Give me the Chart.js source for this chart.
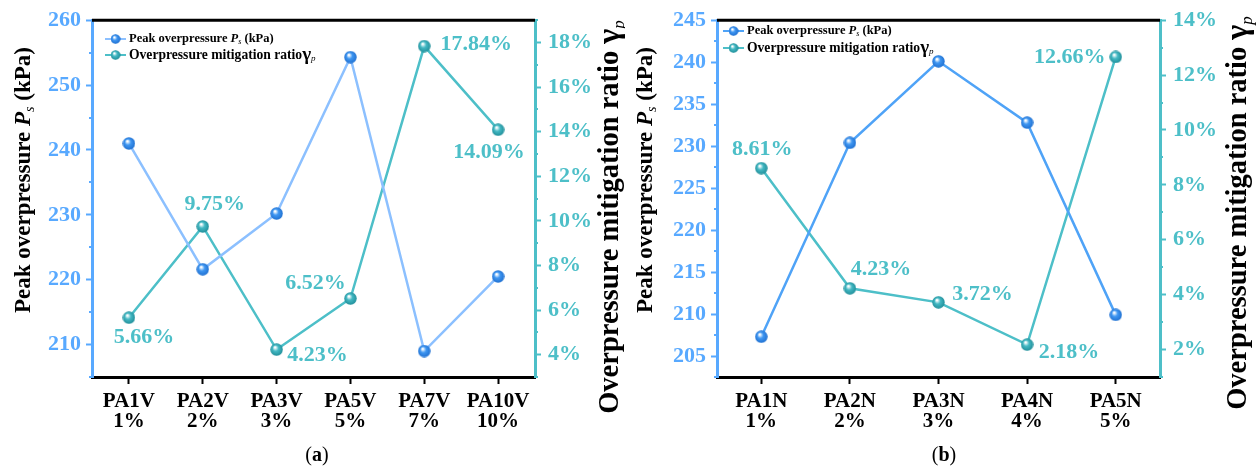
<!DOCTYPE html>
<html>
<head>
<meta charset="utf-8">
<script src="https://cdn.jsdelivr.net/npm/chart.js@4.4.1/dist/chart.umd.min.js"></script>
<style>
  html, body { margin: 0; padding: 0; background: #fff; }
  #wrap { position: relative; width: 1258px; height: 470px; }
  canvas { position: absolute; top: 0; }
</style>
</head>
<body>
<div id="wrap">
  <canvas id="chart-a" width="625" height="470" style="left:0"></canvas>
  <canvas id="chart-b" width="633" height="470" style="left:625px"></canvas>
</div>
<script>
// panel (a)
const catsA = [['PA1V', '1%'], ['PA2V', '2%'], ['PA3V', '3%'], ['PA5V', '5%'], ['PA7V', '7%'], ['PA10V', '10%']];
const peakA = [241.0, 221.6, 230.2, 254.3, 209.0, 220.5];
const ratioA = [5.66, 9.75, 4.23, 6.52, 17.84, 14.09];

// panel (b)
const catsB = [['PA1N', '1%'], ['PA2N', '2%'], ['PA3N', '3%'], ['PA4N', '4%'], ['PA5N', '5%']];
const peakB = [207.3, 230.4, 240.1, 232.8, 209.9];
const ratioB = [8.61, 4.23, 3.72, 2.18, 12.66];

const SERIF = "'Liberation Serif', 'DejaVu Serif', serif";
const BLUE_AXIS = '#58a9ff';
const TEAL = '#4dbfc8';

// where each % label sits relative to its point (dx, dy)
const labelOffA = [[15, 20], [12, -22], [41, 6], [-35, -15], [52, -2], [-9, 23]];
const labelOffB = [[1, -19], [31, -19], [44, -8], [42, 8], [-46, 0]];

function sphere(base, dark, d) {
    const c = document.createElement('canvas');
    c.width = c.height = d;
    const g = c.getContext('2d');
    const r = d / 2;
    const grad = g.createRadialGradient(r * 0.75, r * 0.65, r * 0.1, r, r, r);
    grad.addColorStop(0, '#ffffff');
    grad.addColorStop(0.4, base);
    grad.addColorStop(1, dark);
    g.fillStyle = grad;
    g.beginPath();
    g.arc(r, r, r - 0.3, 0, Math.PI * 2);
    g.fill();
    return c;
}

function richText(ctx, segs, cx, cy, rot) {
    ctx.save();
    ctx.translate(cx, cy);
    ctx.rotate(rot);
    let total = 0;
    segs.forEach(s => { ctx.font = s.font; s.w = ctx.measureText(s.t).width; total += s.w; });
    let x = -total / 2;
    ctx.textBaseline = 'middle';
    ctx.textAlign = 'left';
    segs.forEach(s => {
        ctx.font = s.font;
        ctx.fillStyle = s.color || '#000';
        ctx.fillText(s.t, x, s.dy || 0);
        x += s.w;
    });
    ctx.restore();
}

// short minor ticks, the major ones come from chart.js itself
function minorTicks(ctx, scale, isMinor, color, side) {
    ctx.save();
    ctx.strokeStyle = color;
    ctx.lineWidth = 2;
    scale.ticks.forEach(t => {
        if (!isMinor(t.value)) return;
        const y = Math.round(scale.getPixelForValue(t.value));
        const x = side === 'left' ? scale.right : scale.left;
        ctx.beginPath();
        ctx.moveTo(x, y);
        ctx.lineTo(side === 'left' ? x - 3 : x + 3, y);
        ctx.stroke();
    });
    ctx.restore();
}

function makeChart(id, cats, peak, ratio, cfg) {
    const ballBlue = sphere('#3f97f2', '#1f6fd0', 13);
    const ballTeal = sphere('#44b9c4', '#1f8d98', 13);
    const leftMinor = v => Math.abs(v % cfg.yMajor) > 1e-6;
    const rightMinor = v => v % 2 !== 0;

    const extras = {
        id: 'extras',
        afterDatasetsDraw(chart) {
            const ctx = chart.ctx;
            const a = chart.chartArea;

            // top frame line
            ctx.save();
            ctx.strokeStyle = '#000';
            ctx.lineWidth = 3;
            ctx.beginPath();
            ctx.moveTo(a.left, a.top);
            ctx.lineTo(a.right, a.top);
            ctx.stroke();
            ctx.restore();

            minorTicks(ctx, chart.scales.y, leftMinor, BLUE_AXIS, 'left');
            minorTicks(ctx, chart.scales.y1, rightMinor, TEAL, 'right');

            // percentage labels
            const meta = chart.getDatasetMeta(1);
            ctx.save();
            ctx.font = 'bold 22px ' + SERIF;
            ctx.fillStyle = TEAL;
            ctx.textAlign = 'center';
            ctx.textBaseline = 'middle';
            meta.data.forEach((pt, i) => {
                const off = cfg.labelOff[i];
                ctx.fillText(ratio[i].toFixed(2) + '%', pt.x + off[0], pt.y + off[1]);
            });
            ctx.restore();

            // legend
            const lx = cfg.legend[0], ly = cfg.legend[1], gap = cfg.legend[2];
            const rows = [
                { line: cfg.peakLine, ball: ballBlue, segs: [
                    { t: 'Peak overpressure ', font: 'bold 12.5px ' + SERIF },
                    { t: 'P', font: 'bold italic 12.5px ' + SERIF },
                    { t: 's', font: 'italic 8px ' + SERIF, dy: 3 },
                    { t: ' (kPa)', font: 'bold 12.5px ' + SERIF }
                ] },
                { line: TEAL, ball: ballTeal, segs: [
                    { t: 'Overpressure mitigation ratio', font: 'bold 13.6px ' + SERIF },
                    { t: 'γ', font: 'bold 19px ' + SERIF },
                    { t: 'p', font: 'italic 9px ' + SERIF, dy: 4 }
                ] }
            ];
            rows.forEach((row, k) => {
                const y = ly + k * gap;
                ctx.save();
                ctx.strokeStyle = row.line;
                ctx.lineWidth = 2;
                ctx.beginPath();
                ctx.moveTo(lx, y);
                ctx.lineTo(lx + 21, y);
                ctx.stroke();
                ctx.drawImage(row.ball, lx + 10.5 - 5, y - 5, 10, 10);
                ctx.restore();
                let w = 0;
                row.segs.forEach(s => { ctx.font = s.font; w += ctx.measureText(s.t).width; });
                richText(ctx, row.segs, lx + 24 + w / 2, y, 0);
            });

            // axis titles
            richText(ctx, [
                { t: 'Peak overpressure ', font: 'bold 23px ' + SERIF },
                { t: 'P', font: 'bold italic 23px ' + SERIF },
                { t: 's', font: 'italic 14px ' + SERIF, dy: 6 },
                { t: ' (kPa)', font: 'bold 23px ' + SERIF }
            ], cfg.leftTitle[0], cfg.leftTitle[1], -Math.PI / 2);
            richText(ctx, [
                { t: 'Overpressure mitigation ratio ', font: 'bold 28.5px ' + SERIF },
                { t: 'γ', font: 'bold 32px ' + SERIF },
                { t: 'p', font: 'italic 17px ' + SERIF, dy: 9 }
            ], cfg.rightTitle[0], cfg.rightTitle[1], -Math.PI / 2);

            // panel caption
            richText(ctx, [
                { t: '(', font: '20px ' + SERIF },
                { t: cfg.caption, font: 'bold 20px ' + SERIF },
                { t: ')', font: '20px ' + SERIF }
            ], cfg.captionPos[0], cfg.captionPos[1], 0);
        }
    };

    return new Chart(document.getElementById(id), {
        type: 'line',
        data: {
            labels: cats,
            datasets: [{
                label: 'Peak overpressure Ps (kPa)',
                data: peak,
                yAxisID: 'y',
                borderColor: cfg.peakLine,
                borderWidth: 2.5,
                pointStyle: ballBlue,
                pointRadius: 6.5,
                tension: 0
            }, {
                label: 'Overpressure mitigation ratio γp',
                data: ratio,
                yAxisID: 'y1',
                borderColor: TEAL,
                borderWidth: 2.5,
                pointStyle: ballTeal,
                pointRadius: 6.5,
                tension: 0
            }]
        },
        options: {
            responsive: false,
            animation: false,
            layout: { padding: { top: 18, left: 0, right: 0, bottom: 0 } },
            plugins: { legend: { display: false }, tooltip: { enabled: false } },
            scales: {
                x: {
                    type: 'category',
                    offset: true,
                    grid: { drawOnChartArea: false, offset: false, tickLength: 7, tickColor: '#000', tickWidth: 2 },
                    border: { color: '#000', width: 3 },
                    ticks: {
                        color: '#000', maxRotation: 0, autoSkip: false, padding: 8,
                        font: { family: SERIF, size: 21, weight: 'bold', lineHeight: 0.95 }
                    },
                    afterFit: s => { s.height = 93; }
                },
                y: {
                    position: 'left',
                    min: cfg.yMin, max: cfg.yMax,
                    grid: {
                        drawOnChartArea: false, tickLength: 6, tickWidth: 2,
                        tickColor: c => (c.tick && leftMinor(c.tick.value) ? 'rgba(0,0,0,0)' : BLUE_AXIS)
                    },
                    border: { color: BLUE_AXIS, width: 3 },
                    ticks: {
                        stepSize: cfg.yStep, autoSkip: false, color: BLUE_AXIS, padding: 5,
                        font: { family: SERIF, size: 22, weight: 'bold' },
                        callback: v => (leftMinor(v) ? '' : v)
                    },
                    afterFit: s => { s.width = cfg.leftW; }
                },
                y1: {
                    position: 'right',
                    min: cfg.rMin, max: cfg.rMax,
                    grid: {
                        drawOnChartArea: false, tickLength: 6, tickWidth: 2,
                        tickColor: c => (c.tick && rightMinor(c.tick.value) ? 'rgba(0,0,0,0)' : TEAL)
                    },
                    border: { color: TEAL, width: 3 },
                    ticks: {
                        stepSize: 1, autoSkip: false, color: TEAL, padding: 7,
                        font: { family: SERIF, size: 22, weight: 'bold' },
                        callback: v => (rightMinor(v) ? '' : v + '%')
                    },
                    afterFit: s => { s.width = cfg.rightW; }
                }
            }
        },
        plugins: [extras]
    });
}

makeChart('chart-a', catsA, peakA, ratioA, {
    yMin: 205, yMax: 260, yStep: 5, yMajor: 10,
    rMin: 3, rMax: 19,
    leftW: 92, rightW: 90,
    peakLine: '#8cc0ff',
    labelOff: labelOffA,
    legend: [105, 39, 16],
    leftTitle: [24, 180],
    rightTitle: [611, 217],
    caption: 'a', captionPos: [317, 456]
});

makeChart('chart-b', catsB, peakB, ratioB, {
    yMin: 202.5, yMax: 245, yStep: 2.5, yMajor: 5,
    rMin: 1, rMax: 14,
    leftW: 92, rightW: 98,
    peakLine: '#4fa3f7',
    labelOff: labelOffB,
    legend: [98, 31, 17],
    leftTitle: [21, 180],
    rightTitle: [614, 213],
    caption: 'b', captionPos: [319, 456]
});
</script>
</body>
</html>
